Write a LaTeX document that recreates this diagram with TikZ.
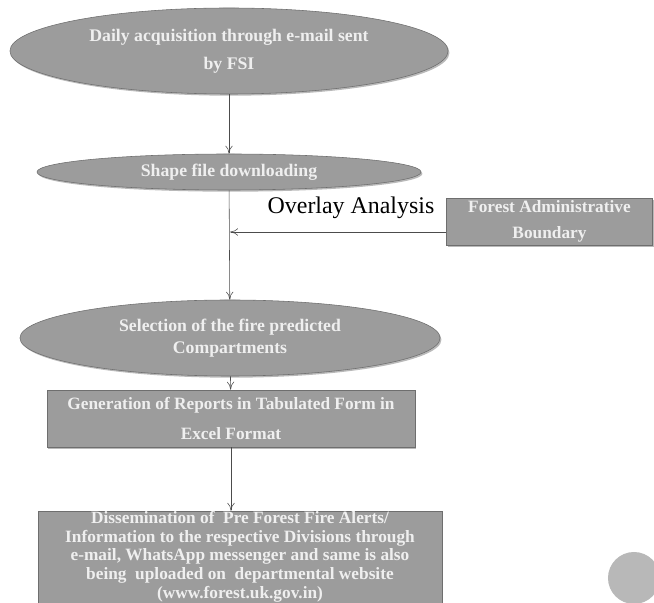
\documentclass[tikz,border=0pt]{standalone}
\usepackage{fontspec}
\setmainfont{Liberation Serif}
\usetikzlibrary{shapes.geometric,shadows,arrows.meta}

\definecolor{stepfill}{HTML}{9C9C9C}
\definecolor{stepline}{HTML}{6E6E6E}
\definecolor{steptext}{HTML}{EFEFEF}

\tikzset{
	ovalstep/.style={ellipse, draw=stepline, fill=stepfill, text=steptext, inner sep=0pt,
		align=center, font=\fontsize{12.6}{20}\selectfont\bfseries,
		drop shadow={shadow xshift=1pt, shadow yshift=-1.2pt, opacity=0.55}},
	boxstep/.style={rectangle, draw=stepline, fill=stepfill, text=steptext, inner sep=0pt,
		align=center, font=\fontsize{12.3}{13.3}\selectfont\bfseries,
		drop shadow={shadow xshift=1pt, shadow yshift=-1.2pt, opacity=0.55}},
	flow/.style={draw=black!70, -{To[length=2mm,width=1.8mm]}}
}

\begin{document}
\begin{tikzpicture}[x=0.025cm, y=-0.025cm]
		% Page frame
		\useasboundingbox (0,0) rectangle (654,603);
		
		% Steps of the procedure
		\node[ovalstep, minimum width=10.95cm, minimum height=2.15cm] (mail) at (229,51)
			{Daily acquisition through e-mail sent\\by FSI};
		\node[ovalstep, minimum width=9.6cm, minimum height=0.9cm] (shape) at (229,172)
			{Shape file downloading};
		\node[ovalstep, minimum width=10.5cm, minimum height=1.9cm,
			font=\fontsize{12.6}{15.6}\selectfont\bfseries] (select) at (230,338)
			{Selection of the fire predicted\\Compartments};
		\node[boxstep, minimum width=9.2cm, minimum height=1.425cm,
			font=\fontsize{12.3}{22}\selectfont\bfseries] (report) at (231,418.5)
			{Generation of Reports in Tabulated Form in\\Excel Format};
		\node[boxstep, minimum width=10.1cm, minimum height=2.3cm] (alert) at (240,558)
			{Dissemination of \ Pre Forest Fire Alerts/\\
			 Information to the respective Divisions through\\
			 e-mail, WhatsApp messenger and same is also\\
			 being \ uploaded on \ departmental website\\
			 \underline{(www.forest.uk.gov.in)}};
		
		% Boundary layer
		\node[boxstep, minimum width=5.15cm, minimum height=1.175cm,
			font=\fontsize{12.3}{18}\selectfont\bfseries] (bound) at (549.5,221.5)
			{Forest Administrative\\Boundary};
		
		% Connectors
		\coordinate (meet) at (230,232);
		\draw[flow] (mail) -- (shape);
		\draw[flow] (shape) -- (select);
		\draw[flow] (bound.west |- meet) -- (meet);
		\draw[flow] (select) -- (report);
		\draw[flow] (report) -- (report |- alert.north);
		
		% Label of the overlay
		\node[font=\fontsize{17}{20}\selectfont] (overlay) at (351,208) {Overlay Analysis};
		
		% Grey dot at the margin
		\fill[black!28] (634,578) circle (0.65cm);
	\end{tikzpicture}
\end{document}
